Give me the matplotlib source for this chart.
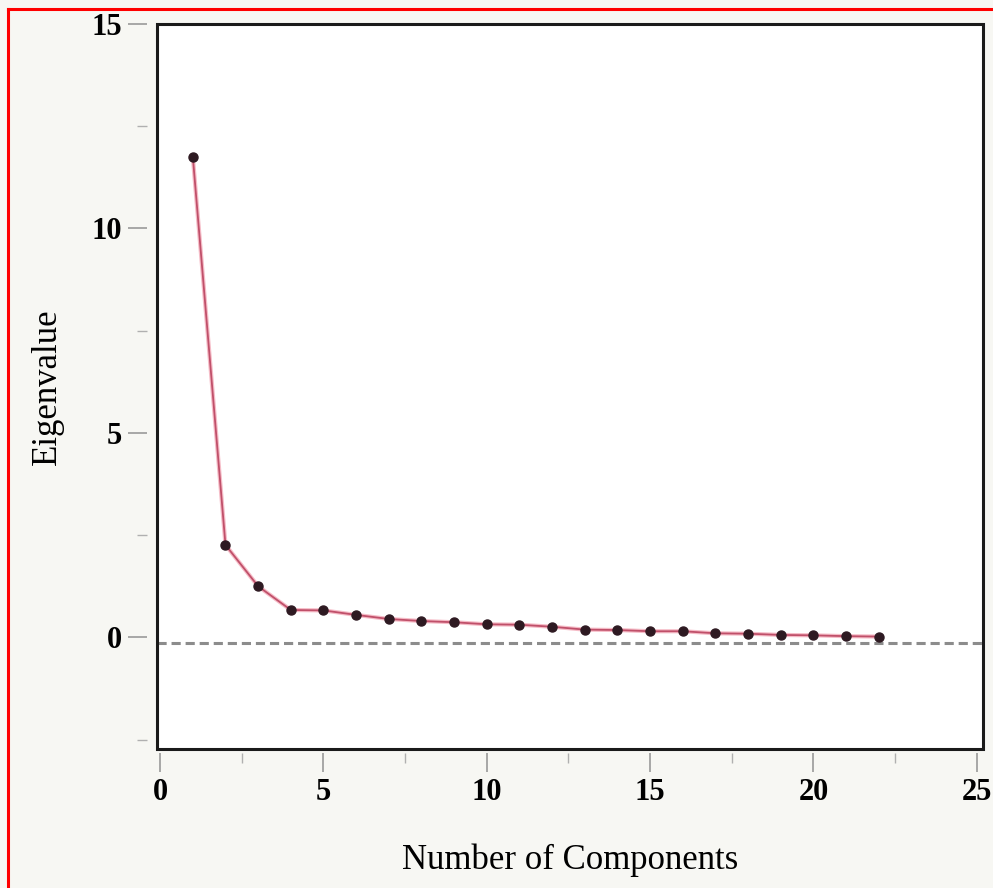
import matplotlib
matplotlib.use("Agg")
import matplotlib.pyplot as plt
from matplotlib.patches import Rectangle
from matplotlib.lines import Line2D

# scree plot values
components = list(range(1, 23))
eigenvalues = [11.75, 2.26, 1.25, 0.67, 0.66, 0.55, 0.45, 0.40, 0.37, 0.32, 0.31,
               0.26, 0.19, 0.18, 0.15, 0.15, 0.10, 0.09, 0.06, 0.05, 0.03, 0.02]
ref_level = -0.13
x_ticks = [0, 5, 10, 15, 20, 25]
y_ticks = [0, 5, 10, 15]

plt.rcParams['font.family'] = ['Liberation Serif', 'DejaVu Serif']

fig = plt.figure(figsize=(9.93, 8.88), dpi=100)
fig.patch.set_facecolor('#f7f7f3')
ax = fig.add_axes([0.158, 0.1565, 0.8316, 0.8165])
ax.set_facecolor('white')

ax.axhline(ref_level, color='#8c8c8c', lw=2.2, ls=(0, (3, 1.6)), zorder=1)
ax.plot(components, eigenvalues, color='#f2a0b0', lw=3.0, alpha=0.7, zorder=2)
ax.plot(components, eigenvalues, color='#c0506a', lw=1.3, zorder=2)
ax.plot(components, eigenvalues, 'o', color='#2e1a22', ms=6.5, zorder=3)

ax.set_xlim(-0.1, 25.18)
ax.set_ylim(-2.73, 15)
ax.set_xticks(x_ticks)
ax.set_yticks(y_ticks)
ax.set_xticks([2.5, 7.5, 12.5, 17.5, 22.5], minor=True)
ax.set_yticks([-2.5, 2.5, 7.5, 12.5], minor=True)

# ticks sit a little away from the box, so push spines out and hide them
for s in ax.spines.values():
    s.set_visible(False)
ax.spines['left'].set_position(('outward', 7))
ax.spines['bottom'].set_position(('outward', 3))
ax.add_patch(Rectangle((0, 0), 1, 1, transform=ax.transAxes, fill=False,
                       ec='#1a1a1a', lw=2.2, clip_on=False, zorder=5))

ax.tick_params(axis='both', which='major', length=14, width=1.2, color='#9a9a9a',
               labelsize=22, pad=4)
ax.tick_params(axis='both', which='minor', length=7, width=1.0, color='#b0b0b0')
for lab in ax.get_xticklabels() + ax.get_yticklabels():
    lab.set_fontweight('bold')

ax.set_xlabel('Number of Components', fontsize=25, labelpad=26)
ax.set_ylabel('Eigenvalue', fontsize=25, labelpad=20)

# red frame seen at the left and top of the picture
fig.add_artist(Line2D([7.5 / 993, 7.5 / 993], [0, 1 - 9 / 888], color='red', lw=2.2))
fig.add_artist(Line2D([7.5 / 993, 1], [1 - 9 / 888, 1 - 9 / 888], color='red', lw=2.2))

fig.savefig('out.png', dpi=100, facecolor=fig.get_facecolor())
